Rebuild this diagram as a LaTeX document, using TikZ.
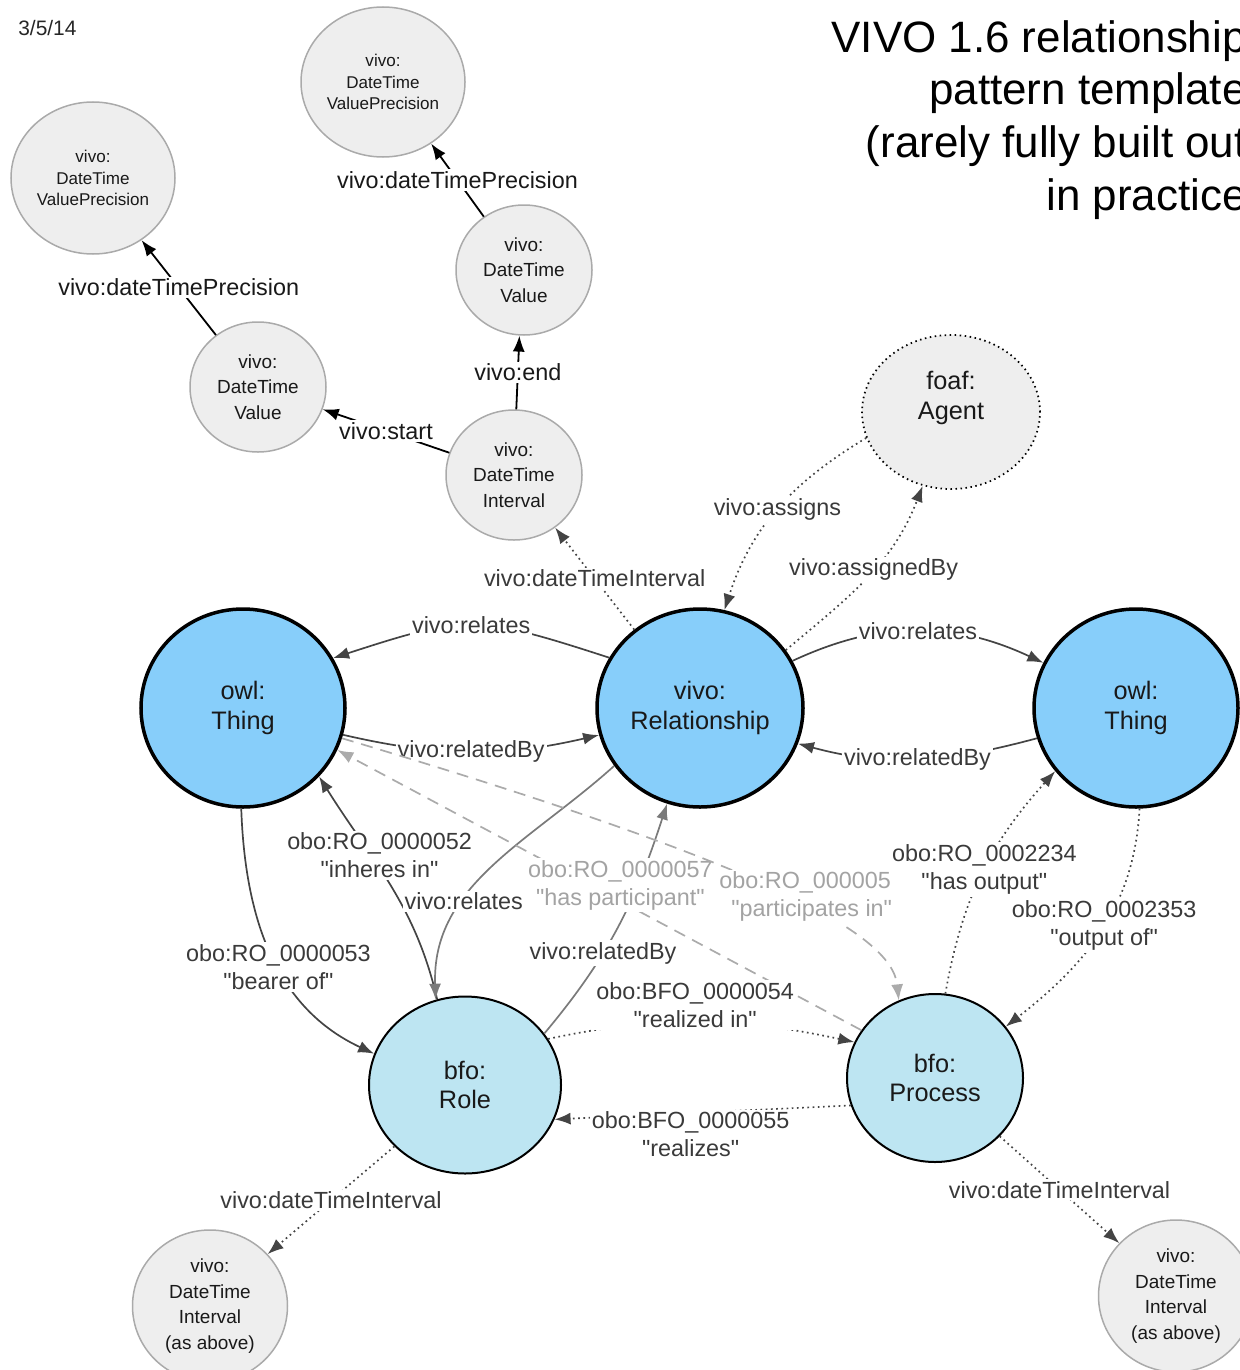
\documentclass[tikz,border=0pt]{standalone}
\usepackage{fontspec}
\setmainfont{Liberation Sans}[Ligatures=TeXOff]
\usetikzlibrary{arrows.meta,shapes.geometric}

\definecolor{thingblue}{HTML}{87CEFA}
\definecolor{bfoblue}{HTML}{BDE5F2}
\definecolor{dtfill}{HTML}{EEEEEE}
\definecolor{dtline}{HTML}{AAAAAA}
\definecolor{edgedark}{HTML}{444444}
\definecolor{edgemid}{HTML}{7A7A7A}
\definecolor{edgelight}{HTML}{ABABAB}
\definecolor{lbldark}{HTML}{3A3A3A}
\definecolor{lbllight}{HTML}{A3A3A3}

\tikzset{
  thing/.style={ellipse, draw=black, line width=0.7mm, fill=thingblue, minimum width=40.8mm, minimum height=39.6mm,
    inner sep=0pt, align=center, text=black!90, font=\fontsize{14.4}{17}\selectfont},
  bfo/.style={ellipse, draw=black, line width=0.4mm, fill=bfoblue, inner sep=0pt, align=center,
    text=black!90, font=\fontsize{14.4}{17}\selectfont},
  dtval/.style={ellipse, draw=dtline, line width=0.3mm, fill=dtfill, minimum width=27.2mm, minimum height=26mm,
    inner sep=0pt, align=center, text=black!90, font=\fontsize{10.8}{14.5}\selectfont},
  dtprec/.style={dtval, minimum width=32.8mm, minimum height=30.4mm, font=\fontsize{9.7}{12.2}\selectfont},
  agenttext/.style={yshift=2.8mm, inner sep=0pt, align=center, text=black!90, font=\fontsize{14.4}{17}\selectfont},
  dtlbl/.style={fill=white, inner sep=1.2pt, text=black!90, font=\fontsize{13.3}{16}\selectfont},
  lbl/.style={fill=white, inner sep=1.2pt, align=center, text=lbldark, font=\fontsize{13.3}{16}\selectfont},
  partlbl/.style={lbl, text=lbllight},
  dtedge/.style={draw=black, line width=0.36mm, -{Latex[length=3.2mm,width=2.4mm]}},
  reledge/.style={draw=edgedark, line width=0.34mm, -{Latex[length=3.2mm,width=2.4mm]}},
  grayedge/.style={reledge, draw=edgemid},
  dotedge/.style={reledge, dotted},
  partedge/.style={reledge, draw=edgelight, dash pattern=on 2.4mm off 1.6mm}
}

\begin{document}
\begin{tikzpicture}[x=0.2mm, y=0.2mm]
  \useasboundingbox (0,0) rectangle (1240,-1370);

  % header
  \node[anchor=west, inner sep=0pt, text=black!85, font=\fontsize{11.9}{14}\selectfont] (date) at (18,-28) {3/5/14};
  \node[anchor=north east, inner sep=0pt, align=right, font=\fontsize{25}{30}\selectfont] (title) at (1247,-20)
    {VIVO 1.6 relationship\\pattern template\\(rarely fully built out\\in practice};

  % date-time nodes
  \node[dtprec] (prec1) at (93,-178) {vivo:\\DateTime\\ValuePrecision};
  \node[dtprec, minimum height=30mm] (prec2) at (383,-82) {vivo:\\DateTime\\ValuePrecision};
  \node[dtval] (val1) at (258,-387) {vivo:\\DateTime\\Value};
  \node[dtval] (val2) at (524,-270) {vivo:\\DateTime\\Value};
  \node[dtval] (intv) at (514,-475) {vivo:\\DateTime\\Interval};
  \node[dtval, draw=black, dotted, line width=0.35mm, minimum width=35.6mm, minimum height=30.8mm,
    label={[agenttext]center:{foaf:\\Agent}}] (agent) at (951,-412) {};

  % main classes
  \node[thing] (thingL) at (243,-708) {owl:\\Thing};
  \node[thing, minimum width=41.2mm] (rel) at (700,-708) {vivo:\\Relationship};
  \node[thing] (thingR) at (1136,-708) {owl:\\Thing};
  \node[bfo, minimum width=38.4mm, minimum height=35.4mm] (role) at (465,-1085) {bfo:\\Role};
  \node[bfo, minimum width=35.2mm, minimum height=33.6mm] (proc) at (935,-1078) {bfo:\\Process};
  \node[dtval, minimum width=31mm, minimum height=30.4mm] (intvL) at (210,-1306) {vivo:\\DateTime\\Interval\\(as above)};
  \node[dtval, minimum width=31mm, minimum height=30.4mm] (intvR) at (1176,-1296) {vivo:\\DateTime\\Interval\\(as above)};

  % date-time chain
  \draw[dtedge] (val1.129) -- node[dtlbl] {vivo:dateTimePrecision} (prec1.-52);
  \draw[dtedge] (val2.127) -- node[dtlbl] {vivo:dateTimePrecision} (prec2.-52);
  \draw[dtedge] (intv.161) -- node[dtlbl] {vivo:start} (val1.-19);
  \draw[dtedge] (intv.88) -- node[dtlbl] {vivo:end} (val2.-94);

  % relationship and its things
  \draw[reledge] (rel.151) to[out=162, in=18, looseness=1.3] node[lbl] {vivo:relates} (thingL.29);
  \draw[reledge] (thingL.-15) to[out=-13, in=193] node[lbl] {vivo:relatedBy} (rel.195);
  \draw[reledge] (rel.27) to[out=25, in=155] node[lbl] {vivo:relates} (thingR.154);
  \draw[reledge] (thingR.197) to[out=195, in=-15] node[lbl] {vivo:relatedBy} (rel.-20);
  \draw[dotedge] (rel.130) -- node[lbl] {vivo:dateTimeInterval} (intv.-52);
  \draw[dotedge] (agent.197) to[out=211, in=72] node[lbl] {vivo:assigns} (rel.76);
  \draw[dotedge] (rel.34) to[out=40, in=249] node[lbl, pos=.55] {vivo:assignedBy} (agent.249);

  % role
  \draw[reledge] (thingL.-91) to[out=-88, in=155] node[lbl, pos=.55] {obo:RO\_0000053\\"bearer of"} (role.161);
  \draw[reledge] (role.108) to[out=103, in=-58] node[lbl, pos=.64, xshift=1.6mm] {obo:RO\_0000052\\"inheres in"} (thingL.-42);
  \draw[grayedge] (rel.-146) to[out=222, in=92] node[lbl, pos=.65] {vivo:relates} (role.109);
  \draw[grayedge] (role.33) to[out=50, in=252] node[lbl, pos=.37] {vivo:relatedBy} (rel.-109);

  % process
  \draw[partedge] (proc.147) -- node[partlbl, pos=.46, yshift=3.2mm] {obo:RO\_0000057\\"has participant"} (thingL.-24);
  \draw[partedge] (thingL.-17) .. controls +(417,-124) and +(-7,68) ..
    node[partlbl, pos=.58, yshift=2.6mm] {obo:RO\_0000056\\"participates in"} (proc.115);
  \draw[dotedge] (proc.83) to[out=80, in=228] node[lbl, pos=.52] {obo:RO\_0002234\\"has output"} (thingR.-142);
  \draw[dotedge] (thingR.-88) to[out=-93, in=38] node[lbl, pos=.47] {obo:RO\_0002353\\"output of"} (proc.36);
  \draw[dotedge] (role.29) to[out=12, in=168] node[lbl, xshift=-1.2mm, yshift=3.4mm] {obo:BFO\_0000054\\"realized in"} (proc.156);
  \draw[dotedge] (proc.198) -- node[lbl, xshift=-2.4mm, yshift=-4.4mm] {obo:BFO\_0000055\\"realizes"} (role.-21);

  % intervals of role and process
  \draw[dotedge] (role.221) -- node[lbl] {vivo:dateTimeInterval} (intvL.42);
  \draw[dotedge] (proc.-42) -- node[lbl] {vivo:dateTimeInterval} (intvR.137);
\end{tikzpicture}
\end{document}
